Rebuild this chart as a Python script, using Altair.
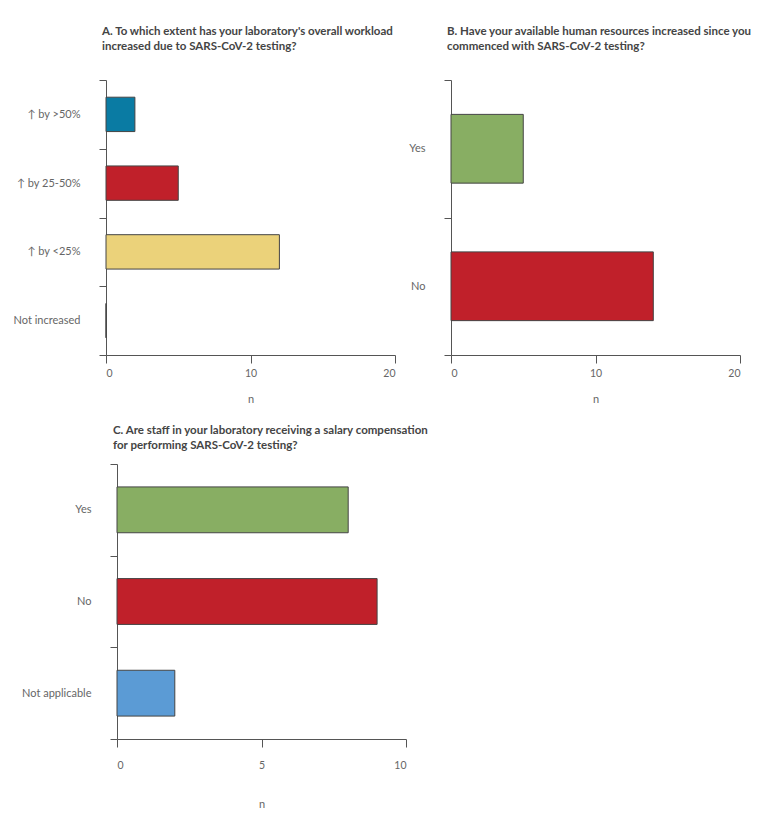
import altair as alt
import pandas as pd

# Panel A
a_cats = ["↑ by >50%", "↑ by 25-50%", "↑ by <25%", "Not increased"]
a_vals = [2, 5, 12, 0]
a_colors = ["#0A7BA3", "#C0202A", "#EBD27A", "#FFFFFF"]
a_title = ["A. To which extent has your laboratory's overall workload",
           "increased due to SARS-CoV-2 testing?"]

# Panel B
b_cats = ["Yes", "No"]
b_vals = [5, 14]
b_colors = ["#88AE63", "#C0202A"]
b_title = ["B. Have your available human resources increased since you",
           "commenced with SARS-CoV-2 testing?"]

# Panel C
c_cats = ["Yes", "No", "Not applicable"]
c_vals = [8, 9, 2]
c_colors = ["#88AE63", "#C0202A", "#5B9BD5"]
c_title = ["C. Are staff in your laboratory receiving a salary compensation",
           "for performing SARS-CoV-2 testing?"]

FONT = "Lato"
AXIS_COL = "#555555"
LABEL_COL = "#666666"


def panel(cats, vals, colors, title, xmax, xticks, yext, title_off,
          lab_pad_x, title_pad_x, shift=0):
    df = pd.DataFrame({"cat": cats, "n": vals, "col": colors})
    return alt.Chart(df).mark_bar(
        height=alt.RelativeBandSize(0.5), stroke="#444444", strokeWidth=1
    ).encode(
        x=alt.X("n:Q", title="n",
                scale=alt.Scale(domain=[0, xmax], nice=False,
                                range=[shift, 289 + shift]),
                axis=alt.Axis(values=xticks, grid=False, domainColor=AXIS_COL,
                              tickColor=AXIS_COL, tickSize=8,
                              labelPadding=lab_pad_x, titlePadding=title_pad_x,
                              labelFontSize=10.5, labelColor=LABEL_COL,
                              titleFontSize=11, titleColor=LABEL_COL,
                              titleFontWeight="normal", labelFont=FONT,
                              titleFont=FONT, titleX=shift + 144.5)),
        y=alt.Y("cat:N", sort=cats, title=None,
                scale=alt.Scale(paddingInner=0, paddingOuter=0),
                axis=alt.Axis(tickBand="extent", grid=False, offset=-shift,
                              domainColor=AXIS_COL, tickColor=AXIS_COL,
                              tickSize=7, labelPadding=19, labelFontSize=11,
                              labelColor=LABEL_COL, labelFont=FONT,
                              minExtent=yext, maxExtent=yext, labelLimit=200)),
        color=alt.Color("col:N", scale=None, legend=None),
    ).properties(
        width=289 + shift, height=275,
        title=alt.TitleParams(title, anchor="start", frame="group",
                              fontSize=11.5, fontWeight="bold", color="#444444",
                              font=FONT, dx=shift - 4, offset=title_off,
                              lineHeight=15),
    )


A = panel(a_cats, a_vals, a_colors, a_title, 20, [0, 10, 20], 93, 22, 5, 15)
B = panel(b_cats, b_vals, b_colors, b_title, 20, [0, 10, 20], 40, 22, 5, 15)
C = panel(c_cats, c_vals, c_colors, c_title, 10, [0, 5, 10], 93, 7, 13, 28,
          shift=11)

top = alt.hconcat(A, B, spacing=12)
chart = alt.vconcat(top, C, spacing=19).properties(
    padding={"top": 17, "left": 5, "right": 5, "bottom": 5}
).configure_view(stroke=None)

chart.save("out.html", embed_options={"renderer": "svg", "actions": False})
